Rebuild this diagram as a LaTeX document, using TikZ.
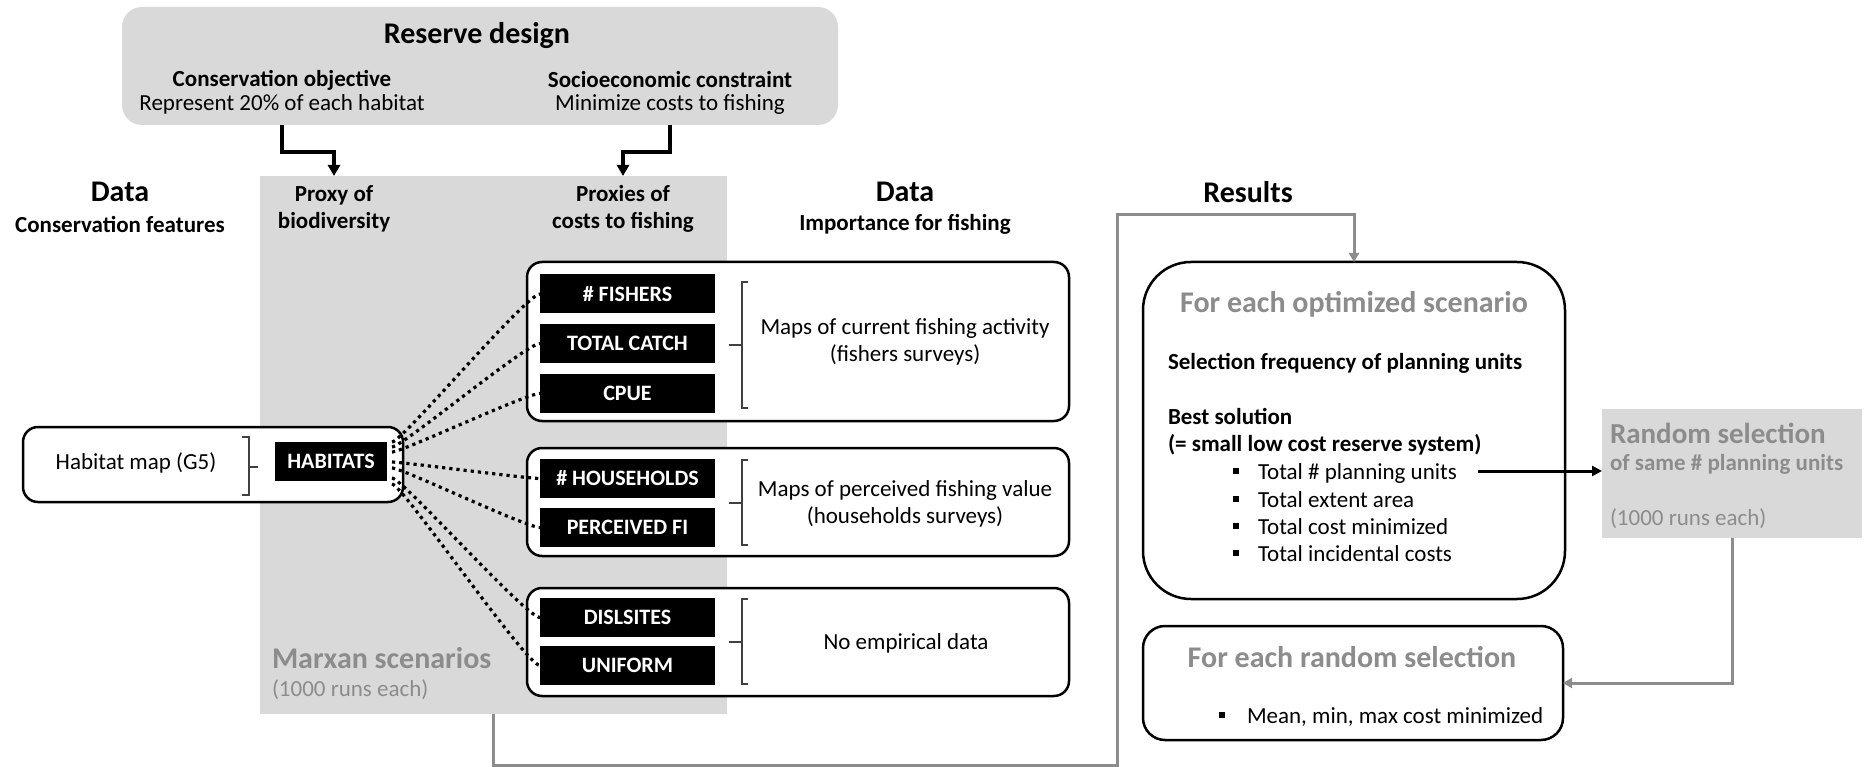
\documentclass[tikz,border=0pt]{standalone}
\usepackage{fontspec}
\setmainfont{Carlito}
\usetikzlibrary{arrows.meta,calc}
\definecolor{panelgray}{HTML}{D9D9D9}
\definecolor{textgray}{HTML}{8C8C8C}

\begin{document}
\begin{tikzpicture}[x=1pt,y=-1pt,
  every node/.style={inner sep=0pt, outer sep=0pt},
  title/.style={font=\fontsize{30}{34}\selectfont\bfseries},
  subhead/.style={font=\fontsize{23}{27}\selectfont\bfseries, align=center},
  body/.style={font=\fontsize{23}{27}\selectfont, align=center},
  graytxt/.style={text=textgray},
  blackbox/.style={fill=black, text=white, font=\fontsize{22}{26}\selectfont\bfseries,
                   minimum width=175pt, minimum height=39pt},
  outlinebox/.style={draw=black, line width=2.5pt, fill=white},
  groupbox/.style={outlinebox, rounded corners=15pt, minimum width=542pt},
  bracketline/.style={draw=black!75, line width=1.6pt},
  dotlink/.style={line width=3.2pt, dash pattern=on 3.2pt off 4pt},
  thickarrow/.style={line width=3.5pt, -{Triangle[length=11pt,width=12pt]}},
  blackarrow/.style={line width=3pt, -{Triangle[length=10pt,width=10pt]}},
  grayarrow/.style={draw=textgray, line width=3pt, -{Triangle[length=9pt,width=10pt]}},
  bulletmark/.style={fill=black, minimum size=6pt},
]
\useasboundingbox (0,0) rectangle (1869,767);

% ---------- reserve design header ----------
\node[fill=panelgray, rounded corners=20pt, minimum width=716pt, minimum height=118pt] (reserve) at (480,66) {};
\node[title] (rdtitle) at (477,36) {Reserve design};
\node[subhead] (objhead) at (282,80) {Conservation objective};
\node[body] (objtext) at (282,104) {Represent 20\% of each habitat};
\node[subhead] (conhead) at (670,80) {Socioeconomic constraint};
\node[body] (context) at (670,104) {Minimize costs to fishing};

% ---------- Marxan panel ----------
\node[fill=panelgray, minimum width=467pt, minimum height=538pt] (panel) at (493.5,445) {};
\node[subhead] (proxA) at (334,209) {Proxy of\\biodiversity};
\node[subhead] (proxB) at (623,209) {Proxies of\\costs to fishing};
\node[title, graytxt, anchor=west] (marxan) at (272,658) {Marxan scenarios};
\node[body, graytxt, anchor=west] (marxruns) at (272,690) {(1000 runs each)};

\draw[thickarrow] (reserve.south -| objtext) -- ++(0,27) -| (panel.north -| proxA);
\draw[thickarrow] (reserve.south -| context) -- ++(0,27) -| (panel.north -| proxB);

% ---------- column headings ----------
\node[title] (dataL) at (120,192) {Data};
\node[subhead] (featL) at (120,224) {Conservation features};
\node[title] (dataR) at (905,192) {Data};
\node[subhead] (featR) at (905,224) {Importance for fishing};
\node[title] (results) at (1248,192) {Results};

% ---------- habitat map ----------
\node[outlinebox, rounded corners=15pt, minimum width=380pt, minimum height=75pt] (habbox) at (213,464.5) {};
\node[body] (habmap) at (136,463) {Habitat map (G5)};
\node[blackbox, minimum width=112pt] (hab) at (331,461.5) {HABITATS};
\draw[bracketline] (242,437) -- (249,437) -- (249,495) -- (242,495) (249,467) -- (258,467);

% ---------- cost layers ----------
\node[groupbox, minimum height=159pt] (g1) at (798,341.5) {};
\node[groupbox, minimum height=108pt] (g2) at (798,502) {};
\node[groupbox, minimum height=108pt] (g3) at (798,642) {};

\node[blackbox] (f1) at (627.5,294) {\# FISHERS};
\node[blackbox] (f2) at (627.5,343.5) {TOTAL CATCH};
\node[blackbox] (f3) at (627.5,393.5) {CPUE};
\node[blackbox] (h1) at (627.5,478.5) {\# HOUSEHOLDS};
\node[blackbox] (h2) at (627.5,527.5) {PERCEIVED FI};
\node[blackbox] (d1) at (627.5,617.5) {DISLSITES};
\node[blackbox] (d2) at (627.5,665.5) {UNIFORM};

\draw[bracketline] (748,282) -- (742,282) -- (742,408) -- (748,408) (742,345) -- (729,345);
\draw[bracketline] (748,460) -- (742,460) -- (742,545) -- (748,545) (742,503) -- (729,503);
\draw[bracketline] (748,599) -- (742,599) -- (742,684) -- (748,684) (742,642) -- (729,642);

\node[body] (g1txt) at (905,342) {Maps of current fishing activity\\(fishers surveys)};
\node[body] (g2txt) at (905,504) {Maps of perceived fishing value\\(households surveys)};
\node[body] (g3txt) at (906,643) {No empirical data};

% dotted links from the habitat layer to every cost layer
\foreach \t/\off in {f1/-19.5, f2/-14.5, f3/-9.5, h1/0.5, h2/6.5, d1/16.5, d2/22.5}
  \draw[dotlink] ($(hab.east)+(5,\off)$) .. controls +(10,0) and +(-14,0) .. (\t.west);

% ---------- results ----------
\node[outlinebox, rounded corners=48pt, minimum width=422pt, minimum height=337pt] (optbox) at (1354,430.5) {};
\node[title, graytxt] (optttl) at (1354,304) {For each optimized scenario};
\node[subhead, anchor=west] (selfreq) at (1168,363) {Selection frequency of planning units};
\node[subhead, anchor=west, align=left] (best) at (1168,432) {Best solution\\(= small low cost reserve system)};
\node[body, anchor=base west] (b1) at (1258,479) {Total \# planning units};
\node[body, anchor=base west] (b2) at (1258,507) {Total extent area};
\node[body, anchor=base west] (b3) at (1258,534) {Total cost minimized};
\node[body, anchor=base west] (b4) at (1258,561) {Total incidental costs};
\node[bulletmark] (m1) at (1235.5,471) {};
\node[bulletmark] (m2) at (1235.5,499) {};
\node[bulletmark] (m3) at (1235.5,526) {};
\node[bulletmark] (m4) at (1235.5,553) {};

\node[fill=panelgray, minimum width=260pt, minimum height=129pt] (randbox) at (1732,473.5) {};
\node[title, graytxt, anchor=west, font=\fontsize{29}{33}\selectfont\bfseries] (randttl) at (1610,433) {Random selection};
\node[subhead, graytxt, anchor=west] (randsub) at (1610,464) {of same \# planning units};
\node[body, graytxt, anchor=west] (randruns) at (1610,519) {(1000 runs each)};

\node[outlinebox, rounded corners=22pt, minimum width=420pt, minimum height=114pt] (rbox2) at (1353,683) {};
\node[title, graytxt] (rttl) at (1352,657) {For each random selection};
\node[body, anchor=base west] (r1) at (1247,723) {Mean, min, max cost minimized};
\node[bulletmark] (rm1) at (1222,715) {};

% connectors between the result stages
\coordinate (bestout) at (1478,471);
\draw[blackarrow] (bestout) -- (randbox.west |- bestout);
\draw[grayarrow] (panel.south) |- (1117,765) -- (1117,215) -| (optbox.north);
\draw[grayarrow] (randbox.south) |- (rbox2.east);

\end{tikzpicture}
\end{document}
